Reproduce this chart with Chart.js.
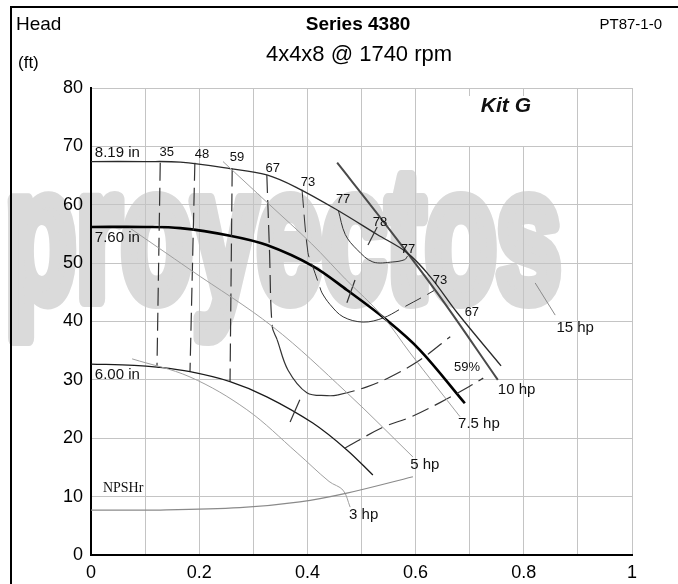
<!DOCTYPE html>
<html>
<head>
<meta charset="utf-8">
<title>Series 4380 pump curve</title>
<script src="https://cdn.jsdelivr.net/npm/chart.js@4.4.1/dist/chart.umd.min.js"></script>
<style>
  html, body { margin: 0; padding: 0; background: #fff; }
  canvas { display: block; }
</style>
</head>
<body>
<canvas id="pumpChart" width="678" height="584"></canvas>
<script>
// tick labels
const xTickLabels = ['0', '0.2', '0.4', '0.6', '0.8', '1'];
const yTickLabels = ['0', '10', '20', '30', '40', '50', '60', '70', '80'];

// impeller curves (flow, head ft)
const imp819X = [0, 0.10, 0.165, 0.257, 0.325, 0.381, 0.455, 0.529, 0.584, 0.627, 0.677, 0.758];
const imp819Y = [67.4, 67.4, 67.3, 66.2, 65.1, 62.9, 59.1, 54.9, 51.8, 47.7, 41.5, 32.4];
const imp760X = [0, 0.10, 0.165, 0.257, 0.325, 0.41, 0.473, 0.547, 0.608, 0.691];
const imp760Y = [56.2, 56.2, 56.0, 54.7, 53.1, 49.5, 45.4, 40.2, 35.1, 26.0];
const imp600X = [0, 0.08, 0.122, 0.183, 0.257, 0.325, 0.41, 0.473, 0.521];
const imp600Y = [32.7, 32.5, 32.2, 31.4, 29.7, 27.1, 22.6, 18.0, 13.7];
const npshX = [0, 0.128, 0.275, 0.386, 0.473, 0.595];
const npshY = [7.7, 7.7, 8.1, 9.1, 10.6, 13.4];

// power lines
const hp3X = [0.076, 0.183, 0.288, 0.381, 0.44, 0.466, 0.479];
const hp3Y = [33.6, 30.5, 24.9, 17.5, 12.6, 11.1, 8.2];
const hp5X = [0.072, 0.183, 0.336, 0.473, 0.595];
const hp5Y = [56.0, 48.9, 39.1, 27.8, 16.8];
const hp75X = [0.244, 0.329, 0.408, 0.47, 0.54, 0.59, 0.682];
const hp75Y = [67.4, 60.1, 53.3, 47.3, 40.8, 34.6, 23.7];
const hp10X = [0.455, 0.534, 0.64, 0.752];
const hp10Y = [67.2, 57.9, 44.9, 30.0];
const hp15X = [0.821, 0.858];
const hp15Y = [46.6, 41.1];

// efficiency contours
const eff35X = [0.128, 0.122];
const eff35Y = [67.2, 32.4];
const eff48X = [0.192, 0.183];
const eff48Y = [67.2, 31.5];
const eff59LX = [0.261, 0.257];
const eff59LY = [66.2, 29.8];
const eff59RX = [0.469, 0.54, 0.59, 0.645, 0.70, 0.725];
const eff59RY = [18.3, 21.9, 23.6, 26.1, 28.9, 30.3];
const eff67X = [0.325, 0.33, 0.335, 0.344, 0.364, 0.399, 0.436, 0.455, 0.51, 0.553, 0.608, 0.664];
const eff67Y = [65.1, 52.0, 39.1, 36.9, 31.7, 27.8, 27.3, 27.4, 28.8, 30.5, 33.4, 37.4];
const eff73X = [0.39, 0.401, 0.41, 0.423, 0.427, 0.442, 0.466, 0.503, 0.54, 0.575, 0.621, 0.634];
const eff73Y = [62.6, 51.8, 49.4, 45.9, 44.9, 42.9, 40.8, 39.9, 40.6, 42.3, 44.6, 45.3];
const eff77X = [0.457, 0.47, 0.492, 0.521, 0.558, 0.58, 0.585];
const eff77Y = [59.1, 54.9, 52.3, 50.2, 50.2, 50.6, 51.2];

// best efficiency marks
const bep819X = [0.512, 0.529];
const bep819Y = [53.1, 56.2];
const bep760X = [0.473, 0.488];
const bep760Y = [43.2, 47.1];
const bep600X = [0.368, 0.386];
const bep600Y = [22.8, 26.6];

const FONT = '"Liberation Sans", Arial, sans-serif';
const DASH = [18, 7];

function pts(xs, ys) {
  return xs.map((x, i) => ({ x: x, y: ys[i] }));
}

function curve(xs, ys, color, width, extra) {
  return Object.assign({
    data: pts(xs, ys),
    showLine: true,
    borderColor: color,
    borderWidth: width,
    pointRadius: 0,
    tension: 0.35,
    fill: false
  }, extra || {});
}

// dashed line that turns solid between two point indexes
function dashedExcept(from, to) {
  return {
    segment: {
      borderDash: ctx => (ctx.p0DataIndex >= from && ctx.p0DataIndex < to) ? [] : DASH
    }
  };
}

const datasets = [
  curve(npshX, npshY, '#8a8a8a', 1.2),
  curve(hp3X, hp3Y, '#a0a0a0', 1),
  curve(hp5X, hp5Y, '#a0a0a0', 1),
  curve(hp75X, hp75Y, '#a0a0a0', 1),
  curve(hp15X, hp15Y, '#8a8a8a', 1),
  curve(eff35X, eff35Y, '#333', 1.2, { borderDash: DASH, tension: 0 }),
  curve(eff48X, eff48Y, '#333', 1.2, { borderDash: DASH, tension: 0 }),
  curve(eff59LX, eff59LY, '#333', 1.2, { borderDash: DASH, tension: 0 }),
  curve(eff59RX, eff59RY, '#333', 1.2, { borderDash: DASH }),
  curve(eff67X, eff67Y, '#333', 1.2, dashedExcept(3, 7)),
  curve(eff73X, eff73Y, '#333', 1, dashedExcept(4, 8)),
  curve(eff77X, eff77Y, '#333', 1),
  curve(bep819X, bep819Y, '#333', 1.2, { tension: 0 }),
  curve(bep760X, bep760Y, '#333', 1.2, { tension: 0 }),
  curve(bep600X, bep600Y, '#333', 1.2, { tension: 0 }),
  curve(imp600X, imp600Y, '#1a1a1a', 1.3),
  curve(imp819X, imp819Y, '#2a2a2a', 1.3),
  curve(hp10X, hp10Y, '#4a4a4a', 2),
  curve(imp760X, imp760Y, '#000', 2.6)
];

// text placed on the chart, positions in axis units
const curveNotes = [
  ['8.19 in', 0.007, 68.9, 'left', '15px ' + FONT],
  ['7.60 in', 0.007, 54.3, 'left', '15px ' + FONT],
  ['6.00 in', 0.007, 30.9, 'left', '15px ' + FONT],
  ['NPSHr', 0.022, 11.5, 'left', '14px "Liberation Serif", "DejaVu Serif", serif'],
  ['35', 0.140, 68.9, 'center', '13px ' + FONT],
  ['48', 0.205, 68.7, 'center', '13px ' + FONT],
  ['59', 0.270, 68.1, 'center', '13px ' + FONT],
  ['67', 0.336, 66.2, 'center', '13px ' + FONT],
  ['73', 0.401, 63.9, 'center', '13px ' + FONT],
  ['77', 0.466, 60.9, 'center', '13px ' + FONT],
  ['78', 0.534, 56.9, 'center', '13px ' + FONT],
  ['77', 0.586, 52.3, 'center', '13px ' + FONT],
  ['73', 0.645, 47.1, 'center', '13px ' + FONT],
  ['67', 0.704, 41.5, 'center', '13px ' + FONT],
  ['59%', 0.695, 32.1, 'center', '13px ' + FONT],
  ['3 hp', 0.477, 6.9, 'left', '15px ' + FONT],
  ['5 hp', 0.590, 15.4, 'left', '15px ' + FONT],
  ['7.5 hp', 0.717, 22.5, 'center', '15px ' + FONT],
  ['10 hp', 0.752, 28.3, 'left', '15px ' + FONT],
  ['15 hp', 0.895, 38.9, 'center', '15px ' + FONT]
];

const decor = {
  id: 'decor',
  beforeDraw(chart) {
    const ctx = chart.ctx;
    ctx.save();
    ctx.fillStyle = '#fff';
    ctx.fillRect(0, 0, chart.width, chart.height);
    // faint heavy watermark behind the grid
    ctx.font = 'bold 185px ' + FONT;
    const w = ctx.measureText('proyectos').width;
    ctx.translate(5, 299);
    ctx.scale(556 / w, 1);
    ctx.fillStyle = '#dadada';
    ctx.strokeStyle = '#dadada';
    ctx.lineWidth = 16;
    ctx.lineJoin = 'round';
    ctx.textBaseline = 'alphabetic';
    ctx.fillText('proyectos', 0, 0);
    ctx.strokeText('proyectos', 0, 0);
    ctx.restore();
  },
  beforeDatasetsDraw(chart) {
    const ctx = chart.ctx;
    ctx.save();
    ctx.fillStyle = '#fff';
    ctx.fillRect(453, 96, 78, 50);
    ctx.fillStyle = '#111';
    ctx.font = 'italic bold 21px ' + FONT;
    ctx.textAlign = 'right';
    ctx.textBaseline = 'middle';
    ctx.fillText('Kit G', 531, 106);
    ctx.restore();
  },
  afterDatasetsDraw(chart) {
    const ctx = chart.ctx;
    const xs = chart.scales.x;
    const ys = chart.scales.y;
    ctx.save();
    ctx.fillStyle = '#111';
    ctx.textBaseline = 'middle';
    curveNotes.forEach(n => {
      ctx.font = n[4];
      ctx.textAlign = n[3];
      ctx.fillText(n[0], xs.getPixelForValue(n[1]), ys.getPixelForValue(n[2]));
    });

    // headings
    ctx.fillStyle = '#000';
    ctx.textAlign = 'left';
    ctx.font = '19px ' + FONT;
    ctx.fillText('Head', 16, 25);
    ctx.font = '17px ' + FONT;
    ctx.fillText('(ft)', 18, 63);
    ctx.textAlign = 'center';
    ctx.font = 'bold 19px ' + FONT;
    ctx.fillText('Series 4380', 358, 25);
    ctx.font = '22px ' + FONT;
    ctx.fillText('4x4x8 @ 1740 rpm', 359, 55);
    ctx.textAlign = 'right';
    ctx.font = '15px ' + FONT;
    ctx.fillText('PT87-1-0', 662, 25);

    // outer frame
    ctx.strokeStyle = '#000';
    ctx.lineWidth = 2;
    ctx.beginPath();
    ctx.moveTo(11, chart.height);
    ctx.lineTo(11, 7);
    ctx.lineTo(chart.width, 7);
    ctx.stroke();
    ctx.restore();
  }
};

new Chart(document.getElementById('pumpChart'), {
  type: 'scatter',
  data: { datasets: datasets },
  plugins: [decor],
  options: {
    responsive: false,
    animation: false,
    events: [],
    layout: { padding: { left: 0, right: 46, top: 88, bottom: 0 } },
    plugins: {
      legend: { display: false },
      tooltip: { enabled: false },
      title: { display: false }
    },
    scales: {
      x: {
        type: 'linear',
        min: 0,
        max: 1,
        afterFit: s => { s.height = 29; },
        grid: { color: '#c4c4c4', lineWidth: 1, drawTicks: false },
        border: { color: '#000', width: 2 },
        ticks: {
          stepSize: 0.1,
          padding: 7,
          autoSkip: false,
          maxRotation: 0,
          color: '#000',
          font: { family: FONT, size: 18 },
          callback: v => xTickLabels.find(l => Math.abs(parseFloat(l) - v) < 1e-6) || ''
        }
      },
      y: {
        min: 0,
        max: 80,
        afterFit: s => { s.width = 91; },
        grid: { color: '#c4c4c4', lineWidth: 1, drawTicks: false },
        border: { color: '#000', width: 2 },
        ticks: {
          stepSize: 10,
          padding: 8,
          color: '#000',
          font: { family: FONT, size: 18 },
          callback: v => yTickLabels.find(l => Math.abs(parseFloat(l) - v) < 1e-6) || ''
        }
      }
    }
  }
});
</script>
</body>
</html>
